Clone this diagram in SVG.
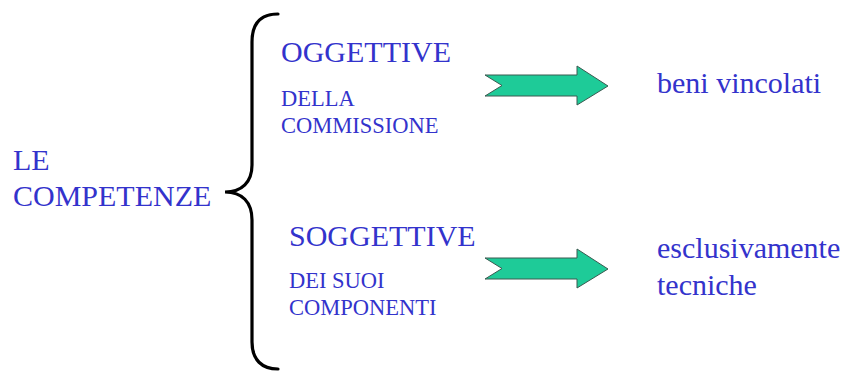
<svg xmlns="http://www.w3.org/2000/svg" width="844" height="372" viewBox="0 0 844 372">
  <style>
    .txt { fill: #3333cc; }
    .big { font-size: 30px; }
    .small { font-size: 22.5px; }
    .arrow { fill: #1ecb98; stroke: #3a5a50; stroke-width: 1; stroke-linejoin: miter; }
    .brace { fill: none; stroke: #000; stroke-width: 3.2; stroke-linecap: round; }
  </style>
  <rect width="844" height="372" fill="#fff"/>

  <g class="txt" font-family="'Liberation Serif', 'DejaVu Serif', serif">
    <g id="root">
      <text class="big" x="13" y="170">LE</text>
      <text class="big" x="13" y="206">COMPETENZE</text>
    </g>

    <g id="oggettive">
      <text class="big" x="281" y="62">OGGETTIVE</text>
      <text class="small" x="281" y="106">DELLA</text>
      <text class="small" x="281" y="133">COMMISSIONE</text>
    </g>

    <g id="soggettive">
      <text class="big" x="289" y="246">SOGGETTIVE</text>
      <text class="small" x="289" y="288">DEI SUOI</text>
      <text class="small" x="289" y="315">COMPONENTI</text>
    </g>

    <g id="beni">
      <text class="big" x="657" y="93">beni vincolati</text>
    </g>

    <g id="tecniche">
      <text class="big" x="657" y="258">esclusivamente</text>
      <text class="big" x="657" y="295">tecniche</text>
    </g>
  </g>

  <g id="brace">
    <path class="brace" d="M278,14 C262,14 252,22 252,42 L252,165 C252,182 242,192 225,192 C242,192 252,202 252,220 L252,342 C252,360 262,369 278,369"/>
  </g>

  <g id="connectors">
    <polygon class="arrow" points="485,75 577,75 577,66 608,86 577,105 577,96 485,96 502,85.5"/>
    <polygon class="arrow" points="485,258 577,258 577,249 608,269 577,288 577,279 485,279 502,268.5"/>
  </g>
</svg>
